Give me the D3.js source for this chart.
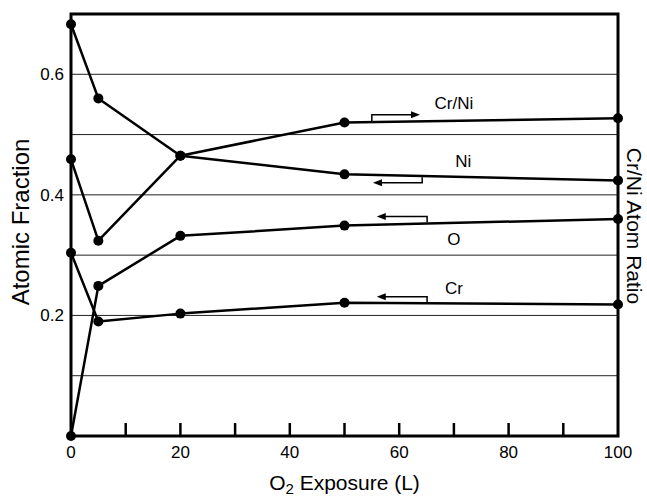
<!DOCTYPE html>
<html>
<head>
<meta charset="utf-8">
<script src="https://cdn.jsdelivr.net/npm/d3@7"></script>
<style>
  body { margin: 0; background: #fff; }
  text { font-family: "Liberation Sans", Arial, Helvetica, sans-serif; fill: #000; }
</style>
</head>
<body>
<div id="chart"></div>
<script>
// O2 exposure (L)
var exposure = [0, 5, 20, 50, 100];
// atomic fractions (left axis)
var ni = [0.683, 0.560, 0.465, 0.434, 0.424];
var o  = [0.000, 0.249, 0.332, 0.349, 0.360];
var cr = [0.304, 0.190, 0.203, 0.221, 0.218];
// Cr/Ni atom ratio (right axis)
var crni = [0.459, 0.324, 0.465, 0.520, 0.527];

var xTicks = [10, 20, 30, 40, 50, 60, 70, 80, 90];
var xLabels = [0, 20, 40, 60, 80, 100];
var yLabels = [0.2, 0.4, 0.6];
var gridVals = [0.1, 0.2, 0.3, 0.4, 0.5, 0.6];

var width = 647, height = 500,
  margin = { top: 14, right: 29, bottom: 64, left: 71 };

var x = d3.scaleLinear().domain([0, 100]).range([margin.left, width - margin.right]);
var y = d3.scaleLinear().domain([0, 0.7]).range([height - margin.bottom, margin.top]);
var yRight = d3.scaleLinear().domain([0, 0.7]).range([height - margin.bottom, margin.top]);

var svg = d3.select('#chart').append('svg')
  .attr('width', width)
  .attr('height', height);

// grid lines
svg.append('g').selectAll('line')
  .data(gridVals).enter().append('line')
  .attr('x1', x(0)).attr('x2', x(100))
  .attr('y1', function (d) { return y(d); })
  .attr('y2', function (d) { return y(d); })
  .style('stroke', '#222').style('stroke-width', 1);

// x ticks (inside)
svg.append('g').selectAll('line')
  .data(xTicks).enter().append('line')
  .attr('x1', function (d) { return x(d); })
  .attr('x2', function (d) { return x(d); })
  .attr('y1', y(0)).attr('y2', y(0) - 13)
  .style('stroke', '#000').style('stroke-width', 2.5);

svg.append('g').selectAll('text')
  .data(xLabels).enter().append('text')
  .attr('x', function (d) { return x(d); })
  .attr('y', y(0) + 22)
  .attr('text-anchor', 'middle')
  .style('font-size', '17px')
  .text(function (d) { return d; });

svg.append('g').selectAll('text')
  .data(yLabels).enter().append('text')
  .attr('x', x(0) - 7)
  .attr('y', function (d) { return y(d) + 6; })
  .attr('text-anchor', 'end')
  .style('font-size', '17px')
  .text(function (d) { return d.toFixed(1); });

// series
var line = d3.line()
  .x(function (d) { return x(d[0]); })
  .y(function (d) { return d[2](d[1]); });

var series = [
  { vals: ni, scale: y },
  { vals: o, scale: y },
  { vals: cr, scale: y },
  { vals: crni, scale: yRight }
];

series.forEach(function (s) {
  var pts = exposure.map(function (e, i) { return [e, s.vals[i], s.scale]; });
  svg.append('path')
    .attr('d', line(pts))
    .style('fill', 'none')
    .style('stroke', '#000')
    .style('stroke-width', 2.5)
    .style('stroke-linejoin', 'round');
  svg.append('g').selectAll('circle')
    .data(pts).enter().append('circle')
    .attr('cx', function (d) { return x(d[0]); })
    .attr('cy', function (d) { return d[2](d[1]); })
    .attr('r', 5)
    .style('fill', '#000');
});

// frame
svg.append('rect')
  .attr('x', x(0)).attr('y', y(0.7))
  .attr('width', x(100) - x(0))
  .attr('height', y(0) - y(0.7))
  .style('fill', 'none').style('stroke', '#000').style('stroke-width', 3);

// annotations: label and bracket arrow, in data units
var notes = [
  { text: 'Cr/Ni', lx: 70, ly: 0.542, hx: 55, hy0: 0.522, hy1: 0.533, tip: 63.8 },
  { text: 'Ni', lx: 71.7, ly: 0.447, hx: 64.2, hy0: 0.429, hy1: 0.420, tip: 55.2 },
  { text: 'O', lx: 70, ly: 0.316, hx: 65.1, hy0: 0.354, hy1: 0.364, tip: 55.9 },
  { text: 'Cr', lx: 70, ly: 0.236, hx: 65.1, hy0: 0.221, hy1: 0.231, tip: 55.9 }
];

notes.forEach(function (n) {
  svg.append('text')
    .attr('x', x(n.lx)).attr('y', y(n.ly))
    .attr('text-anchor', 'middle')
    .style('font-size', '17px')
    .text(n.text);
  var dir = n.tip > n.hx ? 1 : -1;
  var tipX = x(n.tip), yy = y(n.hy1);
  svg.append('path')
    .attr('d', 'M' + x(n.hx) + ',' + y(n.hy0) + 'V' + yy + 'H' + (tipX - dir * 6))
    .style('fill', 'none').style('stroke', '#000').style('stroke-width', 1.5);
  svg.append('path')
    .attr('d', 'M' + tipX + ',' + yy + 'L' + (tipX - dir * 9) + ',' + (yy - 3.5) +
      'L' + (tipX - dir * 9) + ',' + (yy + 3.5) + 'Z')
    .style('fill', '#000');
});

// axis titles
svg.append('text')
  .attr('transform', 'translate(29,' + 222 + ') rotate(-90)')
  .attr('text-anchor', 'middle')
  .style('font-size', '24px')
  .text('Atomic Fraction');

svg.append('text')
  .attr('transform', 'translate(627,' + 226 + ') rotate(90)')
  .attr('text-anchor', 'middle')
  .style('font-size', '21px')
  .text('Cr/Ni Atom Ratio');

var xt = svg.append('text')
  .attr('x', x(50)).attr('y', 490)
  .attr('text-anchor', 'middle')
  .style('font-size', '21px');
xt.append('tspan').text('O');
xt.append('tspan').attr('dy', 4).style('font-size', '15px').text('2');
xt.append('tspan').attr('dy', -4).text(' Exposure (L)');
</script>
</body>
</html>
